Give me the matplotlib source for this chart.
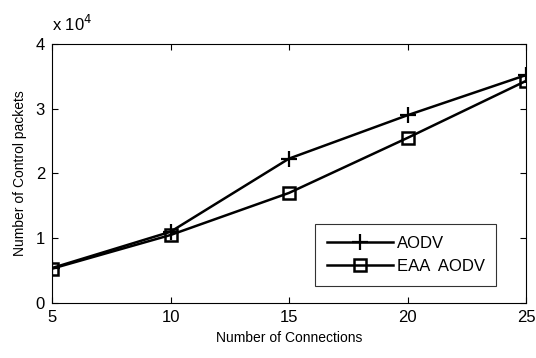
import matplotlib.pyplot as plt

connections = [5, 10, 15, 20, 25]
aodv = [5400, 11000, 22300, 29000, 35200]
eaa_aodv = [5300, 10500, 17000, 25500, 34300]

plt.rcParams['font.family'] = ['Liberation Sans', 'DejaVu Sans']

fig = plt.figure(figsize=(5.36, 3.58), dpi=100)
ax = fig.add_axes([52 / 536, 1 - 303 / 358, 474 / 536, 259 / 358])

ax.plot(connections, aodv, color='k', lw=1.8, marker='+', ms=12, mew=1.6, label='AODV')
ax.plot(connections, eaa_aodv, color='k', lw=1.8, marker='s', ms=9, mew=1.8,
        mfc='none', label='EAA  AODV')

ax.set_xlim(5, 25)
ax.set_ylim(0, 40000)
ax.set_xticks(connections)
yt = [0, 10000, 20000, 30000, 40000]
ax.set_yticks(yt)
ax.set_yticklabels([str(v // 10000) for v in yt])
# matlab style exponent label
ax.text(0.0, 1.04, r'x 10$^{4}$', transform=ax.transAxes, fontsize=12, va='bottom')

ax.tick_params(direction='in', top=True, right=True, labelsize=12, length=4, width=0.8, pad=5)
for s in ax.spines.values():
    s.set_linewidth(0.8)

ax.set_xlabel('Number of Connections', fontsize=10, labelpad=4)
ax.set_ylabel('Number of Control packets', fontsize=10, labelpad=6)

leg = ax.legend(loc='lower right', bbox_to_anchor=(0.955, 0.035), fontsize=12,
                fancybox=False, edgecolor='k', handlelength=4, borderpad=0.7,
                labelspacing=0.5, handletextpad=0.2)
leg.get_frame().set_linewidth(0.8)

fig.savefig('out.png', dpi=100)
